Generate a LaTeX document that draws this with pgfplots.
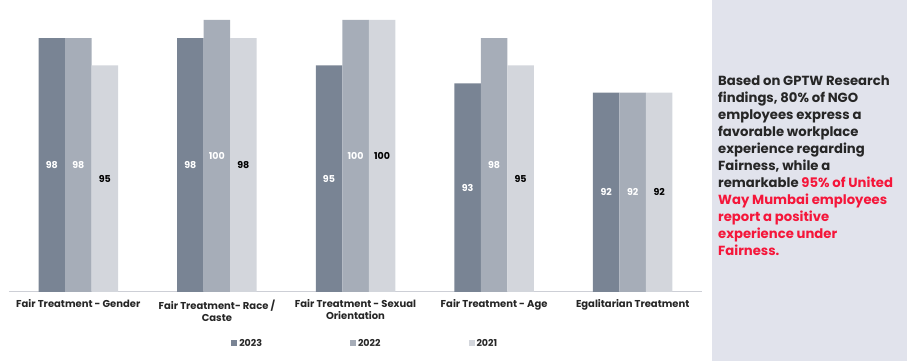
\documentclass[border=0pt]{standalone}
\usepackage{pgfplots}
\pgfplotsset{compat=1.18}
\usepackage{fontspec}
\setmainfont{Poppins}
\definecolor{cA}{HTML}{798494}
\definecolor{cB}{HTML}{A6ADB8}
\definecolor{cC}{HTML}{D3D6DC}
\definecolor{panel}{HTML}{E1E3EC}
\definecolor{redtxt}{HTML}{F5163A}
\definecolor{darktxt}{HTML}{262626}
\begin{document}
\begin{tikzpicture}[x=1pt,y=1pt]
\path[use as bounding box] (0,0) rectangle (907,361);
\fill[panel] (712,0) rectangle (907,361);
\begin{axis}[
  at={(9pt,69pt)}, anchor=south west,
  scale only axis, width=693pt, height=272pt,
  ybar=0pt, bar width=26.5pt,
  ymin=70, ymax=100, xmin=-0.5, xmax=4.5,
  axis y line=none, axis x line*=bottom,
  x axis line style={draw=panel!80!gray, line width=1pt, -},
  xtick=data, major tick length=0pt,
  /pgf/number format/assume math mode=true,
  xticklabels={{Fair Treatment - Gender},{Fair Treatment- Race /\\Caste},{Fair Treatment - Sexual\\Orientation},{Fair Treatment - Age},{Egalitarian Treatment}},
  xticklabel style={font=\bfseries\fontsize{10}{12}\selectfont, align=center, text=darktxt, yshift=-4pt},
  visualization depends on=rawy\as\rawy,
  point meta=rawy,
  nodes near coords={\pgfmathprintnumber{\rawy}},
  every node near coord/.append style={font=\bfseries\fontsize{9.5}{10}\selectfont, anchor=center, yshift={-(\rawy-70)*4.533pt}},
  legend columns=3,
  legend style={at={(0.514,-0.19)}, anchor=center, draw=none, fill=none, font=\bfseries\fontsize{9.5}{11}\selectfont, text=darktxt, /tikz/every even column/.append style={column sep=86pt}},
]
\addplot[fill=cA, draw=none, nodes near coords style={text=white}, legend image code/.code={\fill[cA] (0pt,-2.5pt) rectangle (6pt,3.5pt);}] coordinates {(0,98) (1,98) (2,95) (3,93) (4,92)};
\addplot[fill=cB, draw=none, nodes near coords style={text=white}, legend image code/.code={\fill[cB] (0pt,-2.5pt) rectangle (6pt,3.5pt);}] coordinates {(0,98) (1,100) (2,100) (3,98) (4,92)};
\addplot[fill=cC, draw=none, nodes near coords style={text=black}, legend image code/.code={\fill[cC] (0pt,-2.5pt) rectangle (6pt,3.5pt);}] coordinates {(0,95) (1,98) (2,100) (3,95) (4,92)};
\legend{2023,2022,2021}
\end{axis}
\node[anchor=north west, align=left, inner sep=0pt, text=darktxt, font=\bfseries\fontsize{13.2}{17}\selectfont] at (718,285) {Based on GPTW Research\\findings, 80\% of NGO\\employees express a\\favorable workplace\\experience regarding\\Fairness, while a\\remarkable \textcolor{redtxt}{95\% of United}\\\textcolor{redtxt}{Way Mumbai employees}\\\textcolor{redtxt}{report a positive}\\\textcolor{redtxt}{experience under}\\\textcolor{redtxt}{Fairness.}};
\end{tikzpicture}
\end{document}
